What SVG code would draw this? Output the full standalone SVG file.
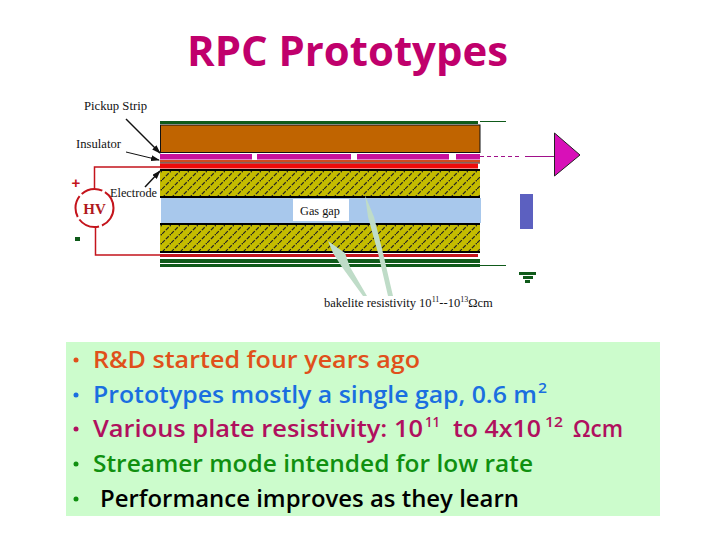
<svg xmlns="http://www.w3.org/2000/svg" width="720" height="540" viewBox="0 0 720 540">
<style>
.lbl{font-family:"Liberation Serif",serif;font-size:13px;fill:#111}
.ln{font-family:"Open Sans",sans-serif;font-size:23px;font-weight:600}
.sp{font-family:"Open Sans",sans-serif;font-size:15px;font-weight:600}
.o{fill:#e0501a}.b{fill:#1a6fe0}.c{fill:#b0105e}.g{fill:#109010}.k{fill:#000}
.wire{fill:none;stroke:#c4141c;stroke-width:1.500}
.pale{fill:#bfdcc8}
</style>
<defs>
<pattern id="hatch" width="9" height="9" patternUnits="userSpaceOnUse">
<rect width="9" height="9" fill="#c4bc00"/>
<path d="M0 9L9 0" stroke="#222" stroke-width="1.200" stroke-dasharray="4 1.500"/>
</pattern>
<marker id="ah" markerWidth="9" markerHeight="6" refX="8" refY="3" orient="auto" markerUnits="userSpaceOnUse"><path d="M0 0L9 3L0 6z" fill="#111"/></marker>
</defs>
<rect width="720" height="540" fill="#fff"/>
<text id="title" x="187" y="66" textLength="321" lengthAdjust="spacingAndGlyphs" font-family="Open Sans, sans-serif" font-size="42" font-weight="700" fill="#c0006c">RPC Prototypes</text>
<g id="stack">
<rect x="160" y="121" width="318" height="3" fill="#0f5a1a"/>
<rect x="160.500" y="125" width="319.500" height="27.500" fill="#c06400" stroke="#111" stroke-width="1"/>
<rect x="160" y="154" width="320" height="5.500" fill="#c8109c"/>
<rect x="252" y="153.500" width="5" height="6.500" fill="#fff"/><rect x="351" y="153.500" width="6" height="6.500" fill="#fff"/><rect x="449" y="153.500" width="7" height="6.500" fill="#fff"/>
<rect x="160" y="160" width="320" height="2.500" fill="#d04a20"/>
<rect x="160" y="162.500" width="320" height="1" fill="#222"/>
<rect x="160" y="163.500" width="318" height="5" fill="#ee0a0a"/>
<rect x="160" y="169" width="320" height="2" fill="#000"/>
<rect x="160" y="171" width="320" height="25" fill="url(#hatch)"/>
<rect x="160" y="196" width="320" height="2" fill="#000"/>
<rect x="161" y="198" width="320" height="25" fill="#a8c8ec"/>
<rect x="160" y="223" width="320" height="2" fill="#000"/>
<rect x="160" y="225" width="320" height="26" fill="url(#hatch)"/>
<rect x="160" y="251" width="320" height="2" fill="#000"/>
<rect x="160" y="254" width="318" height="3" fill="#c4141c"/>
<rect x="160" y="259" width="320" height="4" fill="#0f5a1a"/>
<rect x="160" y="264" width="320" height="3" fill="#0f5a1a"/>
</g>
<g id="gas-gap"><rect x="293" y="199" width="56" height="22" fill="#fff"/><text class="lbl" x="300" y="215" textLength="40" lengthAdjust="spacingAndGlyphs">Gas gap</text></g>
<g id="connectors">
<path d="M126 119L160 153" stroke="#111" stroke-width="1.500" marker-end="url(#ah)" fill="none"/>
<path d="M126 152L159 160" stroke="#111" stroke-width="1" marker-end="url(#ah)" fill="none"/>
<path d="M145 187L160 171" stroke="#111" stroke-width="1.500" marker-end="url(#ah)" fill="none"/>
<path class="wire" d="M94.500 188V167H160"/>
<path class="wire" d="M95.500 228V255H160"/>
<path d="M480 121.500H506M480 265.500H506" stroke="#0f5a1a" stroke-width="1" fill="none"/>
<path d="M480 156.500H522" stroke="#a0108a" stroke-width="1" stroke-dasharray="4 3" fill="none"/>
<path d="M525 156.500H555" stroke="#a0108a" stroke-width="1" fill="none"/>
<path class="pale" d="M365 195L374 217L383 253L393 296L388 296L378 253L368 217Z"/>
<path class="pale" d="M328 241L345 253L350 267L367 296L363 296L342 267L333 253Z"/>
</g>
<g id="hv">
<circle cx="94.500" cy="208" r="19" fill="#fff" stroke="#c4141c" stroke-width="2" stroke-dasharray="22 3"/>
<text x="94.500" y="214" text-anchor="middle" font-family="Liberation Serif, serif" font-size="15" font-weight="700" fill="#b01820">HV</text>
<text x="76" y="188" text-anchor="middle" font-family="Liberation Sans, sans-serif" font-size="15" font-weight="700" fill="#c4141c">+</text>
<rect x="75" y="237" width="5" height="4" fill="#0f5a1a"/>
</g>
<g id="labels">
<text class="lbl" x="84" y="110" textLength="63" lengthAdjust="spacingAndGlyphs">Pickup Strip</text>
<text class="lbl" x="76" y="148" textLength="45" lengthAdjust="spacingAndGlyphs">Insulator</text>
<text class="lbl" x="110" y="197" textLength="47" lengthAdjust="spacingAndGlyphs">Electrode</text>
<text class="lbl" x="324" y="307" style="font-size:12.500px">bakelite resistivity 10<tspan font-size="8" dy="-5">11</tspan><tspan dy="5">--10</tspan><tspan font-size="8" dy="-5">13</tspan><tspan dy="5">Ωcm</tspan></text>
</g>
<g id="amp"><path d="M554.500 133V176L580 155Z" fill="#d810b8" stroke="#222" stroke-width="1"/></g>
<g id="detector"><rect x="520" y="194" width="13" height="35" fill="#5c60c0"/></g>
<g id="ground" fill="#0f5a1a"><rect x="519" y="272" width="17" height="3"/><rect x="523" y="276" width="10" height="3"/><rect x="525" y="280" width="5" height="3"/></g>
<g id="panel">
<rect x="66" y="342" width="594" height="174" fill="#ccfccc"/>
<circle class="o" cx="76" cy="360" r="2.500"/><circle class="b" cx="76" cy="395" r="2.500"/><circle class="c" cx="76" cy="429" r="2.500"/><circle class="g" cx="76" cy="464" r="2.500"/><circle class="g" cx="76" cy="499" r="2.500"/>
<text class="ln o" x="93" y="368" textLength="327" lengthAdjust="spacingAndGlyphs">R&amp;D started four years ago</text>
<text class="ln b" x="93" y="403" textLength="444" lengthAdjust="spacingAndGlyphs">Prototypes mostly a single gap, 0.6 m</text>
<text class="sp b" x="538" y="393" textLength="9" lengthAdjust="spacingAndGlyphs">2</text>
<text class="ln c" x="93" y="437" textLength="330" lengthAdjust="spacingAndGlyphs">Various plate resistivity: 10</text>
<text class="sp c" x="425" y="427" textLength="15" lengthAdjust="spacingAndGlyphs">11</text>
<text class="ln c" x="453" y="437" textLength="88" lengthAdjust="spacingAndGlyphs">to 4x10</text>
<text class="sp c" x="545" y="427" textLength="18" lengthAdjust="spacingAndGlyphs">12</text>
<text class="ln c" x="573" y="437" textLength="50" lengthAdjust="spacingAndGlyphs">Ωcm</text>
<text class="ln g" x="93" y="472" textLength="440" lengthAdjust="spacingAndGlyphs">Streamer mode intended for low rate</text>
<text class="ln k" x="100" y="507" textLength="419" lengthAdjust="spacingAndGlyphs">Performance improves as they learn</text>
</g>
</svg>
